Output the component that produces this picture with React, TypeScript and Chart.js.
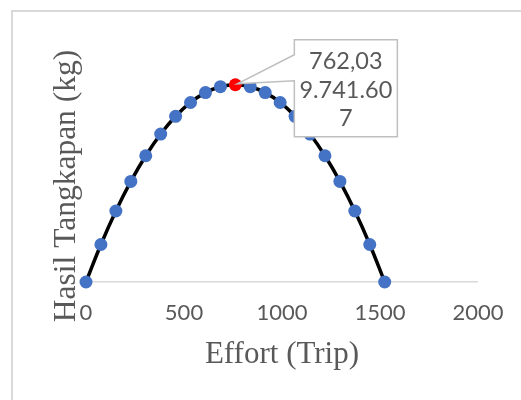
import React, { useEffect, useRef } from "react";
import { Chart, registerables } from "chart.js";

Chart.register(...registerables);

// Effort (trip) values
const EFFORT = [
  0, 76.2, 152.41, 228.61, 304.81, 381.02, 457.22, 533.42, 609.62, 685.83,
  762.03, 838.23, 914.44, 990.64, 1066.84, 1143.05, 1219.25, 1295.45,
  1371.65, 1447.86, 1524.06,
];
// Catch (kg) values
const CATCH = [
  0, 1851, 3507, 4968, 6235, 7306, 8183, 8865, 9352, 9644, 9741.607, 9644,
  9352, 8865, 8183, 7306, 6235, 4968, 3507, 1851, 0,
];
const PEAK_INDEX = 10;
const PEAK_LABEL = ["762,03", "9.741.60", "7"];
const X_TICKS = [0, 500, 1000, 1500, 2000];
const X_TITLE = "Effort (Trip)";
const Y_TITLE = "Hasil Tangkapan (kg)";

const GRAY_TEXT = "#595959";
const BLUE = "#4472C4";
const RED = "#FF0000";

export default function App() {
  const ref = useRef<HTMLCanvasElement | null>(null);

  useEffect(() => {
    if (!ref.current) return;

    const framePlugin = {
      id: "frame",
      beforeDraw(chart: any) {
        const ctx = chart.ctx;
        ctx.save();
        ctx.strokeStyle = "#d9d9d9";
        ctx.lineWidth = 2;
        ctx.strokeRect(12, 11, 700, 700);
        ctx.restore();
      },
    };

    const yTitlePlugin = {
      id: "yTitle",
      afterDraw(chart: any) {
        const ctx = chart.ctx;
        ctx.save();
        ctx.translate(75, 186);
        ctx.rotate(-Math.PI / 2);
        ctx.font = "31.5px 'Liberation Serif', 'Times New Roman', serif";
        ctx.fillStyle = GRAY_TEXT;
        ctx.textAlign = "center";
        ctx.textBaseline = "alphabetic";
        ctx.fillText(Y_TITLE, 0, 0);
        ctx.restore();
      },
    };

    const calloutPlugin = {
      id: "callout",
      afterDatasetsDraw(chart: any) {
        const ctx = chart.ctx;
        const xs = chart.scales.x;
        const ys = chart.scales.y;
        const ax = xs.getPixelForValue(EFFORT[PEAK_INDEX]);
        const ay = ys.getPixelForValue(CATCH[PEAK_INDEX]);
        const bx = ax + 59;
        const by = ay - 45;
        const bw = 103;
        const bh = 97;
        ctx.save();
        ctx.beginPath();
        ctx.moveTo(bx, by);
        ctx.lineTo(bx + bw, by);
        ctx.lineTo(bx + bw, by + bh);
        ctx.lineTo(bx, by + bh);
        ctx.lineTo(bx, by + 41);
        ctx.lineTo(ax + 2, ay - 1);
        ctx.lineTo(bx, by + 15);
        ctx.closePath();
        ctx.fillStyle = "#ffffff";
        ctx.fill();
        ctx.strokeStyle = "#bfbfbf";
        ctx.lineWidth = 1.5;
        ctx.stroke();
        ctx.font = "23.5px Lato, 'Noto Sans', sans-serif";
        ctx.fillStyle = GRAY_TEXT;
        ctx.textAlign = "center";
        ctx.textBaseline = "middle";
        PEAK_LABEL.forEach((line, i) => {
          ctx.fillText(line, bx + bw / 2, by + 22 + i * 28.5);
        });
        ctx.restore();
      },
    };

    const chart = new Chart(ref.current, {
      type: "scatter",
      data: {
        datasets: [
          {
            data: EFFORT.map((x, i) => ({ x, y: CATCH[i] })),
            showLine: true,
            borderColor: "#000000",
            borderWidth: 3.5,
            tension: 0.4,
            pointRadius: 6.5,
            pointBorderWidth: 0,
            pointBackgroundColor: EFFORT.map((_, i) =>
              i === PEAK_INDEX ? RED : BLUE
            ),
            pointBorderColor: EFFORT.map((_, i) =>
              i === PEAK_INDEX ? RED : BLUE
            ),
            clip: false as any,
          },
        ],
      },
      options: {
        responsive: false,
        animation: false,
        events: [],
        layout: { padding: { left: 86, right: 43, top: 39, bottom: 27 } },
        plugins: {
          legend: { display: false },
          tooltip: { enabled: false },
        },
        scales: {
          x: {
            type: "linear",
            min: 0,
            max: 2000,
            afterBuildTicks: (scale: any) => {
              scale.ticks = X_TICKS.map((v) => ({ value: v }));
            },
            afterFit: (scale: any) => {
              scale.height = 91;
            },
            grid: { display: false, drawTicks: false },
            border: { display: true, color: "#d9d9d9", width: 1.5 },
            ticks: {
              padding: 17.5,
              color: GRAY_TEXT,
              font: { family: "Lato, 'Noto Sans', sans-serif", size: 22 },
              maxRotation: 0,
              callback: (v: any) => String(v),
            },
            title: {
              display: true,
              text: X_TITLE,
              color: GRAY_TEXT,
              font: {
                family: "'Liberation Serif', 'Times New Roman', serif",
                size: 31,
              },
              padding: { top: 0, bottom: 0 },
            },
          },
          y: {
            display: false,
            min: 0,
            max: 12000,
          },
        },
      },
      plugins: [framePlugin, yTitlePlugin, calloutPlugin],
    });

    return () => chart.destroy();
  }, []);

  return (
    <div style={{ position: "absolute", left: 0, top: 0, width: 521, height: 400, background: "#fff" }}>
      <canvas ref={ref} width={521} height={400} style={{ display: "block" }} />
    </div>
  );
}
